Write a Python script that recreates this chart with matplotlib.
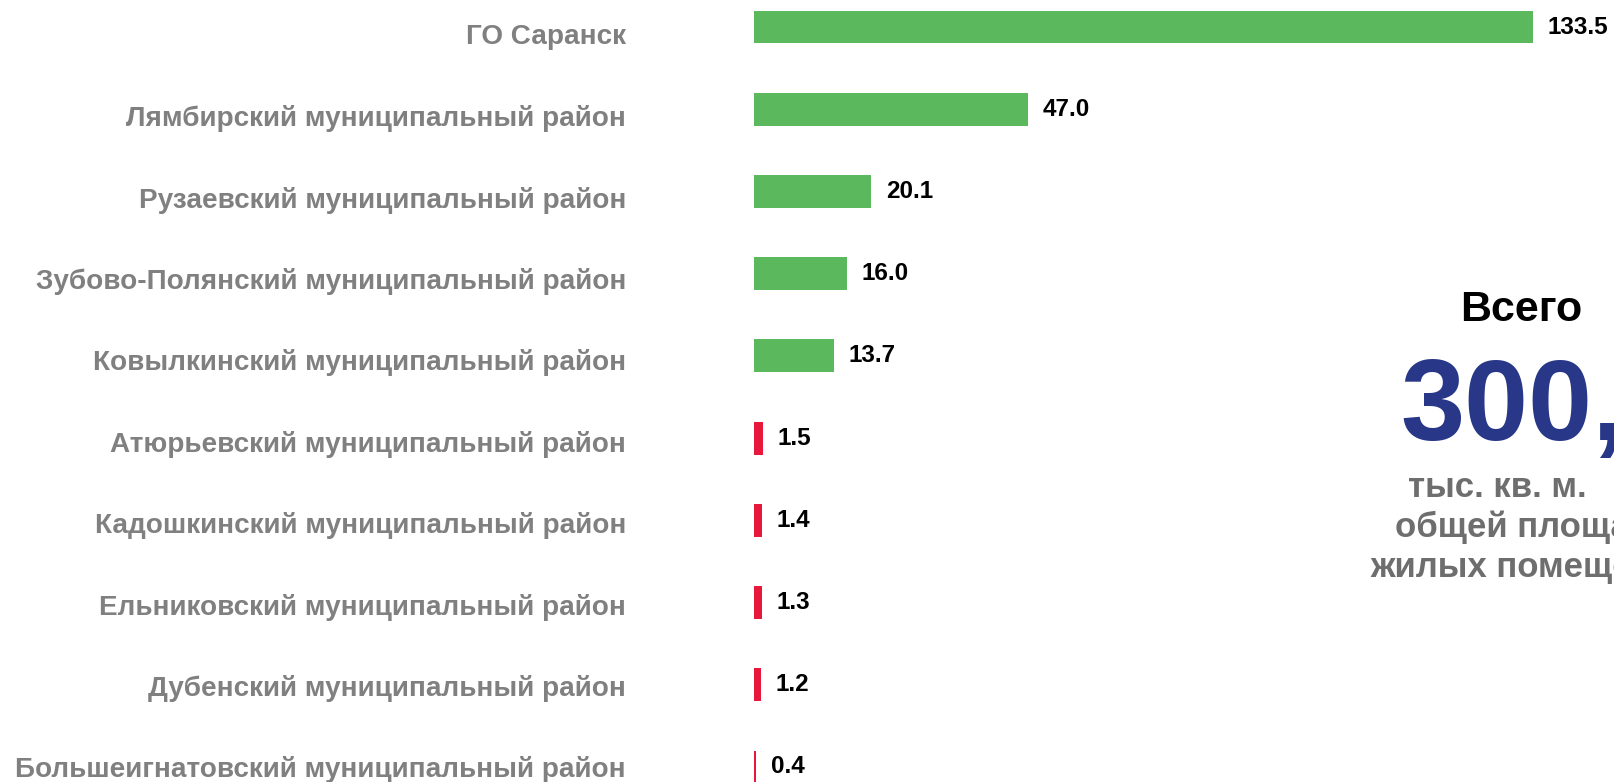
import matplotlib
matplotlib.use("Agg")
import matplotlib.pyplot as plt
from matplotlib.transforms import blended_transform_factory

categories = [
    "ГО Саранск",
    "Лямбирский муниципальный район",
    "Рузаевский муниципальный район",
    "Зубово-Полянский муниципальный район",
    "Ковылкинский муниципальный район",
    "Атюрьевский муниципальный район",
    "Кадошкинский муниципальный район",
    "Ельниковский муниципальный район",
    "Дубенский муниципальный район",
    "Большеигнатовский муниципальный район",
]
values = [133.5, 47.0, 20.1, 16.0, 13.7, 1.5, 1.4, 1.3, 1.2, 0.4]
value_labels = ["133.5", "47.0", "20.1", "16.0", "13.7", "1.5", "1.4", "1.3", "1.2", "0.4"]
is_top = [True, True, True, True, True, False, False, False, False, False]

GREEN = "#5cb85c"
RED = "#e8173c"
LABEL_GRAY = "#808080"
TEXT_GRAY = "#6e6e6e"
NAVY = "#283787"

plt.rcParams['font.family'] = ['Liberation Sans', 'DejaVu Sans']

W, H = 1614, 782
fig = plt.figure(figsize=(W / 100, H / 100), dpi=100)
x0 = 754
ax = fig.add_axes([x0 / W, 0, (W - x0) / W, 1])

colors = [GREEN if t else RED for t in is_top]
n = len(categories)
ypos = list(range(n))
ax.barh(ypos, values, height=0.40, color=colors)
ax.set_xlim(0, (W - x0) / 5.836)
ax.set_ylim(9 + 15 / 82.22, -27 / 82.22)

for y, v, lab in zip(ypos, values, value_labels):
    ax.annotate(lab, xy=(v, y), xytext=(10.5, 0), textcoords="offset points",
                ha="left", va="center", fontsize=17.5, fontweight="bold", color="black")

# category labels: slightly tighter row pitch than the bars, as in the original layout
trans = blended_transform_factory(fig.transFigure, ax.transData)
label_off_top = 0.125
label_off_bottom = 0.035
for i, cat in enumerate(categories):
    ly = i + label_off_top + (label_off_bottom - label_off_top) * i / (n - 1)
    ax.text(626 / W, ly, cat, transform=trans, ha="right", va="center",
            fontsize=20.1, fontweight="bold", color=LABEL_GRAY, clip_on=False)

ax.set_yticks([])
ax.set_xticks([])
for s in ax.spines.values():
    s.set_visible(False)

def fx(px):
    return px / W

def fy(px):
    return 1 - px / H

fig.text(fx(1460), fy(321), "Всего", ha="left", va="baseline", fontsize=31,
         fontweight="bold", color="black")
fig.text(fx(1400), fy(440), "300,", ha="left", va="baseline", fontsize=83,
         fontweight="bold", color=NAVY)
fig.text(fx(1408), fy(497), "тыс. кв. м.", ha="left", va="baseline", fontsize=25,
         fontweight="bold", color=TEXT_GRAY)
fig.text(fx(1395), fy(537), "общей площади", ha="left", va="baseline", fontsize=25,
         fontweight="bold", color=TEXT_GRAY)
fig.text(fx(1370), fy(577), "жилых помещений", ha="left", va="baseline", fontsize=25,
         fontweight="bold", color=TEXT_GRAY)

fig.savefig("out.png", dpi=100, facecolor="white")
